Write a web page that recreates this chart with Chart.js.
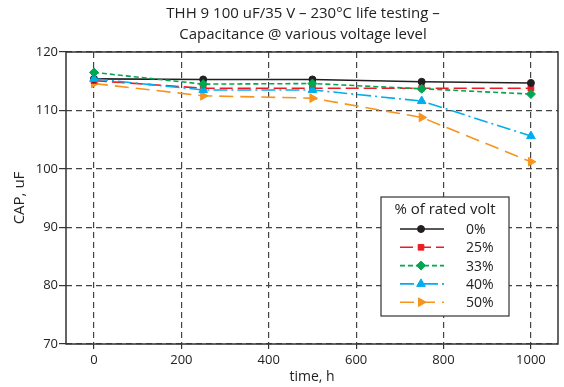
<!DOCTYPE html>
<html>
<head>
<meta charset="utf-8">
<script src="https://cdn.jsdelivr.net/npm/chart.js@4.4.1/dist/chart.umd.min.js"></script>
<style>
  html, body { margin: 0; padding: 0; background: #fff; }
  #wrap { width: 564px; height: 387px; }
</style>
</head>
<body>
<div id="wrap"><canvas id="GraficoCap" width="564" height="387"></canvas></div>
<script>
// data
var horas = [0, 250, 500, 750, 1000];
var cap0 = [115.4, 115.3, 115.3, 114.9, 114.7];
var cap25 = [115.1, 113.8, 113.8, 113.8, 113.8];
var cap33 = [116.5, 114.5, 114.6, 113.7, 112.8];
var cap40 = [115.4, 113.5, 113.5, 111.6, 105.6];
var cap50 = [114.6, 112.5, 112.1, 108.8, 101.2];
var rotulos = ["0%", "25%", "33%", "40%", "50%"];
var ticksX = [0, 200, 400, 600, 800, 1000];
var titulo = ["THH 9 100 uF/35 V \u2013 230\u00b0C life testing \u2013", "Capacitance @ various voltage level"];
var tituloLegenda = "% of rated volt";

var fonte = "'Open Sans', 'Noto Sans', sans-serif";

function Pontos(valores) {
    return horas.map(function (h, i) { return { x: h, y: valores[i] }; });
}

function Serie(i, valores, cor, dash, estilo, raio, rot, ordem) {
    return {
        label: rotulos[i],
        data: Pontos(valores),
        order: ordem,
        borderColor: cor,
        backgroundColor: cor,
        borderWidth: 1.6,
        borderDash: dash,
        pointStyle: estilo,
        pointRadius: raio,
        pointRotation: rot || 0,
        pointBorderWidth: 1,
        pointBackgroundColor: cor,
        pointBorderColor: cor,
        tension: 0,
        fill: false
    };
}

var series = [
    Serie(0, cap0, "#231f20", [], "circle", 3.5, 0, 2),
    Serie(1, cap25, "#ed1c24", [13, 5], "rect", 4, 0, 3),
    Serie(2, cap33, "#00a651", [5, 3], "rectRot", 4.5, 0, 0),
    Serie(3, cap40, "#00aeef", [14, 4, 2, 4], "triangle", 5, 0, 1),
    Serie(4, cap50, "#f7941d", [14, 7], "triangle", 5, 90, 4)
];

// moldura, titulo e legenda desenhados a mao
var extras = {
    id: "extras",
    beforeDatasetsDraw: function (chart) {
        var ctx = chart.ctx, a = chart.chartArea;
        ctx.save();
        ctx.strokeStyle = "#333";
        ctx.lineWidth = 1.5;
        ctx.setLineDash([]);
        ctx.strokeRect(a.left, a.top, a.right - a.left, a.bottom - a.top);
        ctx.restore();
    },
    afterDraw: function (chart) {
        var ctx = chart.ctx;
        ctx.save();
        ctx.fillStyle = "#222";
        ctx.textAlign = "center";
        ctx.textBaseline = "middle";
        ctx.font = "15px " + fonte;
        ctx.fillText(titulo[0], 303, 14);
        ctx.fillText(titulo[1], 303, 35);

        // legenda
        var bx = 381, by = 197, bw = 128, bh = 119;
        ctx.fillStyle = "#fff";
        ctx.fillRect(bx, by, bw, bh);
        ctx.strokeStyle = "#333";
        ctx.lineWidth = 1.2;
        ctx.strokeRect(bx, by, bw, bh);
        ctx.fillStyle = "#222";
        ctx.font = "15px " + fonte;
        ctx.fillText(tituloLegenda, bx + bw / 2, 210);
        ctx.font = "14px " + fonte;
        ctx.textAlign = "left";
        series.forEach(function (s, i) {
            var y = 229 + i * 18.3;
            ctx.strokeStyle = s.borderColor;
            ctx.lineWidth = s.borderWidth;
            ctx.setLineDash(s.borderDash);
            ctx.beginPath();
            ctx.moveTo(400, y);
            ctx.lineTo(444, y);
            ctx.stroke();
            ctx.setLineDash([]);
            ctx.fillStyle = s.pointBackgroundColor;
            ctx.strokeStyle = s.pointBorderColor;
            ctx.lineWidth = 1;
            Chart.helpers.drawPoint(ctx, {
                pointStyle: s.pointStyle,
                radius: s.pointRadius,
                rotation: s.pointRotation,
                borderWidth: 1
            }, 421, y);
            ctx.fillStyle = "#222";
            ctx.fillText(s.label, 466, y + 1);
        });
        ctx.restore();
    }
};

var ctx = document.getElementById("GraficoCap").getContext("2d");
var grafico = new Chart(ctx, {
    type: "line",
    data: { datasets: series },
    plugins: [extras],
    options: {
        responsive: false,
        animation: false,
        layout: { padding: { left: 0, right: 4, top: 52, bottom: 0 } },
        plugins: {
            legend: { display: false },
            title: { display: false },
            tooltip: { enabled: false }
        },
        scales: {
            x: {
                type: "linear",
                min: -64,
                max: 1062,
                afterBuildTicks: function (scale) {
                    scale.ticks = ticksX.map(function (v) { return { value: v }; });
                },
                afterFit: function (scale) { scale.height = 43; },
                border: { display: false, dash: [6, 4] },
                grid: {
                    color: "#444",
                    lineWidth: 1.2,
                    tickLength: 5,
                    tickColor: "#333",
                    tickBorderDash: []
                },
                ticks: {
                    color: "#222",
                    font: { family: fonte, size: 13 },
                    padding: 3,
                    maxRotation: 0,
                    callback: function (v) { return String(v); }
                },
                title: {
                    display: true,
                    text: "time, h",
                    color: "#222",
                    font: { family: fonte, size: 14 },
                    padding: { top: 0, bottom: 2 }
                }
            },
            y: {
                min: 70,
                max: 120,
                afterFit: function (scale) { scale.width = 66; },
                border: { display: false, dash: [6, 4] },
                grid: {
                    color: "#444",
                    lineWidth: 1.2,
                    tickLength: 7,
                    tickColor: "#333",
                    tickBorderDash: []
                },
                ticks: {
                    stepSize: 10,
                    color: "#222",
                    font: { family: fonte, size: 13 },
                    padding: 1
                },
                title: {
                    display: true,
                    text: "CAP, uF",
                    color: "#222",
                    font: { family: fonte, size: 15 },
                    padding: { top: 11, bottom: 0 }
                }
            }
        }
    }
});
</script>
</body>
</html>
